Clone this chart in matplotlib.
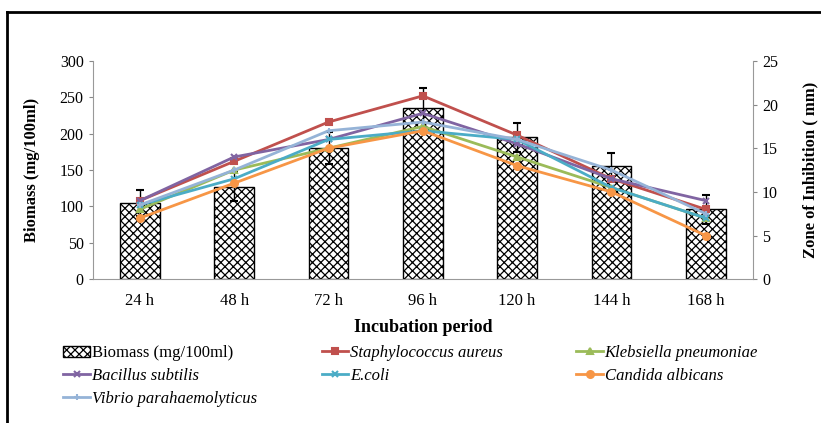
import numpy as np
import matplotlib
matplotlib.use('Agg')
import matplotlib.pyplot as plt
from matplotlib.patches import Rectangle
from matplotlib.lines import Line2D

plt.rcParams['font.family'] = ['Liberation Serif', 'DejaVu Serif']
plt.rcParams['hatch.linewidth'] = 0.9

periods = ['24 h', '48 h', '72 h', '96 h', '120 h', '144 h', '168 h']
biomass = [105, 127, 180, 235, 195, 155, 96]
biomass_err = [18, 20, 22, 28, 20, 19, 20]

staph = [9.0, 13.5, 18.0, 21.0, 16.5, 11.5, 8.0]
kleb = [8.0, 12.5, 15.0, 17.5, 14.0, 10.5, 7.0]
bacillus = [9.0, 14.0, 16.0, 19.0, 15.5, 11.5, 9.0]
ecoli = [8.5, 11.5, 16.0, 17.0, 16.0, 10.5, 7.0]
candida = [7.0, 11.0, 15.0, 17.0, 13.0, 10.0, 5.0]
vibrio = [8.5, 12.5, 17.0, 18.0, 16.0, 12.5, 7.5]

series = [
    ('Staphylococcus aureus', staph, '#C0504D', 's'),
    ('Klebsiella pneumoniae', kleb, '#9BBB59', '^'),
    ('Bacillus subtilis', bacillus, '#8064A2', 'x'),
    ('E.coli', ecoli, '#4BACC6', 'x'),
    ('Candida albicans', candida, '#F79646', 'o'),
    ('Vibrio parahaemolyticus', vibrio, '#95B3D7', '+'),
]

fig = plt.figure(figsize=(8.21, 4.23), dpi=100)
ax = fig.add_axes([0.113, 0.340, 0.804, 0.516])
x = np.arange(len(periods))

ax.bar(x, biomass, width=0.42, color='white', edgecolor='black', hatch='xxxx',
       linewidth=1.0, zorder=2)
ax.errorbar(x, biomass, yerr=biomass_err, fmt='none', ecolor='black',
            elinewidth=1.0, capsize=3, capthick=1.5, zorder=3)
ax.set_ylim(0, 300)
ax.set_yticks(range(0, 301, 50))
ax.set_xlim(-0.5, 6.5)
ax.set_xticks(x)
ax.set_xticklabels(periods)
ax.tick_params(axis='x', length=0, labelsize=12, pad=10)
ax.tick_params(axis='y', labelsize=11.5, length=3, color='#888888')
ax.set_ylabel('Biomass (mg/100ml)', fontsize=12, fontweight='bold', labelpad=14)
ax.set_xlabel('Incubation period', fontsize=13, fontweight='bold', labelpad=7)
for s in ['top', 'right']:
    ax.spines[s].set_visible(False)
for s in ['left', 'bottom']:
    ax.spines[s].set_color('#999999')

ax2 = ax.twinx()
for name, vals, col, mk in series:
    ax2.plot(x, vals, color=col, marker=mk, markersize=5, linewidth=2,
             markeredgewidth=1.5, zorder=4)
ax2.set_ylim(0, 25)
ax2.set_yticks(range(0, 26, 5))
ax2.tick_params(axis='y', labelsize=11.5, length=3, color='#888888')
ax2.set_ylabel('Zone of Inhibition ( mm)', fontsize=12, fontweight='bold', labelpad=18)
for s in ['top', 'left', 'bottom']:
    ax2.spines[s].set_visible(False)
ax2.spines['right'].set_color('#999999')

handles = [Rectangle((0, 0), 1, 1, facecolor='white', edgecolor='black', hatch='xxxx')]
labels = ['Biomass (mg/100ml)']
for name, vals, col, mk in series:
    handles.append(Line2D([], [], color=col, marker=mk, markersize=5, linewidth=2,
                          markeredgewidth=1.5))
    labels.append(name)

# legend laid out as three separate columns
columns = [[0, 3, 6], [1, 4], [2, 5]]
col_x = [0.077, 0.392, 0.702]
for cx, idx in zip(col_x, columns):
    leg = fig.legend([handles[i] for i in idx], [labels[i] for i in idx],
                     loc='upper left', bbox_to_anchor=(cx, 0.184),
                     frameon=False, fontsize=12, handlelength=1.6,
                     handletextpad=0.1, labelspacing=0.42, borderaxespad=0,
                     borderpad=0)
    for t in leg.get_texts():
        if t.get_text() != 'Biomass (mg/100ml)':
            t.set_fontstyle('italic')

# outer frame
fig.add_artist(Line2D([0.0085, 0.0085], [0.0, 0.972], color='black', linewidth=2,
                      transform=fig.transFigure))
fig.add_artist(Line2D([0.0085, 1.0], [0.972, 0.972], color='black', linewidth=2,
                      transform=fig.transFigure))

fig.savefig('out.png', dpi=100)
